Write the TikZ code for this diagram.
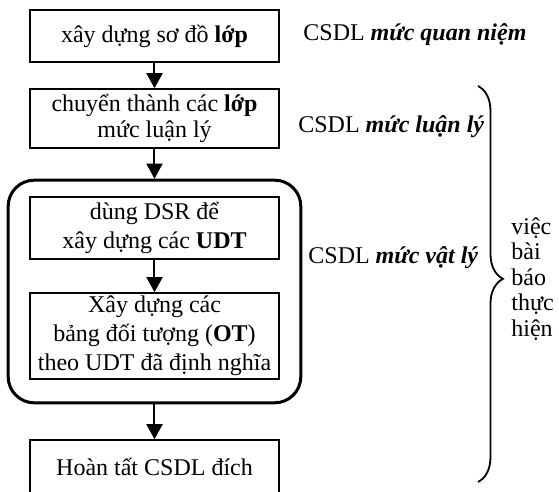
\documentclass[tikz,border=0pt]{standalone}
\usepackage{fontspec}
\setmainfont{Liberation Serif}
\usetikzlibrary{arrows.meta,fit,decorations.pathreplacing}
\tikzset{
  stepbox/.style={draw,line width=0.8pt,minimum width=124.5pt,align=center,inner sep=0pt,
    font=\fontsize{12}{14.5}\selectfont},
  flow/.style={line width=1pt,-{Triangle[length=7.5pt,width=8pt]}},
  levelnote/.style={anchor=west,inner sep=0pt,font=\fontsize{12}{14.5}\selectfont},
}

\begin{document}
\begin{tikzpicture}[x=0.5pt,y=-0.5pt]
\path[use as bounding box] (0,0) rectangle (559,492);
\node[stepbox,minimum height=26pt] (b1) at (154.5,36) {xây dựng sơ đồ \textbf{lớp}};
\node[stepbox,minimum height=29.5pt,font=\fontsize{12}{13}\selectfont] (b2) at (154.5,118.5) {chuyển thành các \textbf{lớp}\\mức luận lý};
\node[stepbox,minimum height=31pt] (b3) at (154.5,228) {dùng DSR để\\xây dựng các \textbf{UDT}};
\node[stepbox,minimum height=43pt] (b4) at (154.5,336) {Xây dựng các\\bảng đối tượng (\textbf{OT})\\theo UDT đã định nghĩa};
\node[stepbox,minimum height=27pt] (b5) at (154.5,467) {Hoàn tất CSDL đích};
\node[draw,line width=1.5pt,rounded corners=13pt,fit=(b3)(b4),inner xsep=10.5pt,inner ysep=9.75pt,yshift=-1.75pt] (phys) {};
\draw[flow] (b1) -- (b2);
\draw[flow] (b2) -- (phys);
\draw[flow] (b3) -- (b4);
\draw[flow] (phys) -- (b5);
\node[levelnote] (l1) at (303,35) {CSDL \textbf{\textit{mức quan niệm}}};
\node[levelnote] (l2) at (298,127) {CSDL \textbf{\textit{mức luận lý}}};
\node[levelnote] (l3) at (308,258) {CSDL \textbf{\textit{mức vật lý}}};
\coordinate (bt) at (478,86);
\coordinate (bb) at (478,482);
\draw[line width=0.9pt,decorate,decoration={brace,amplitude=12.5pt,aspect=0.487}] (bt) -- (bb);
\node[anchor=west,align=left,inner sep=0pt,font=\fontsize{12}{12.75}\selectfont] (task) at (511,279) {việc\\bài\\báo\\thực\\hiện};
\end{tikzpicture}
\end{document}
